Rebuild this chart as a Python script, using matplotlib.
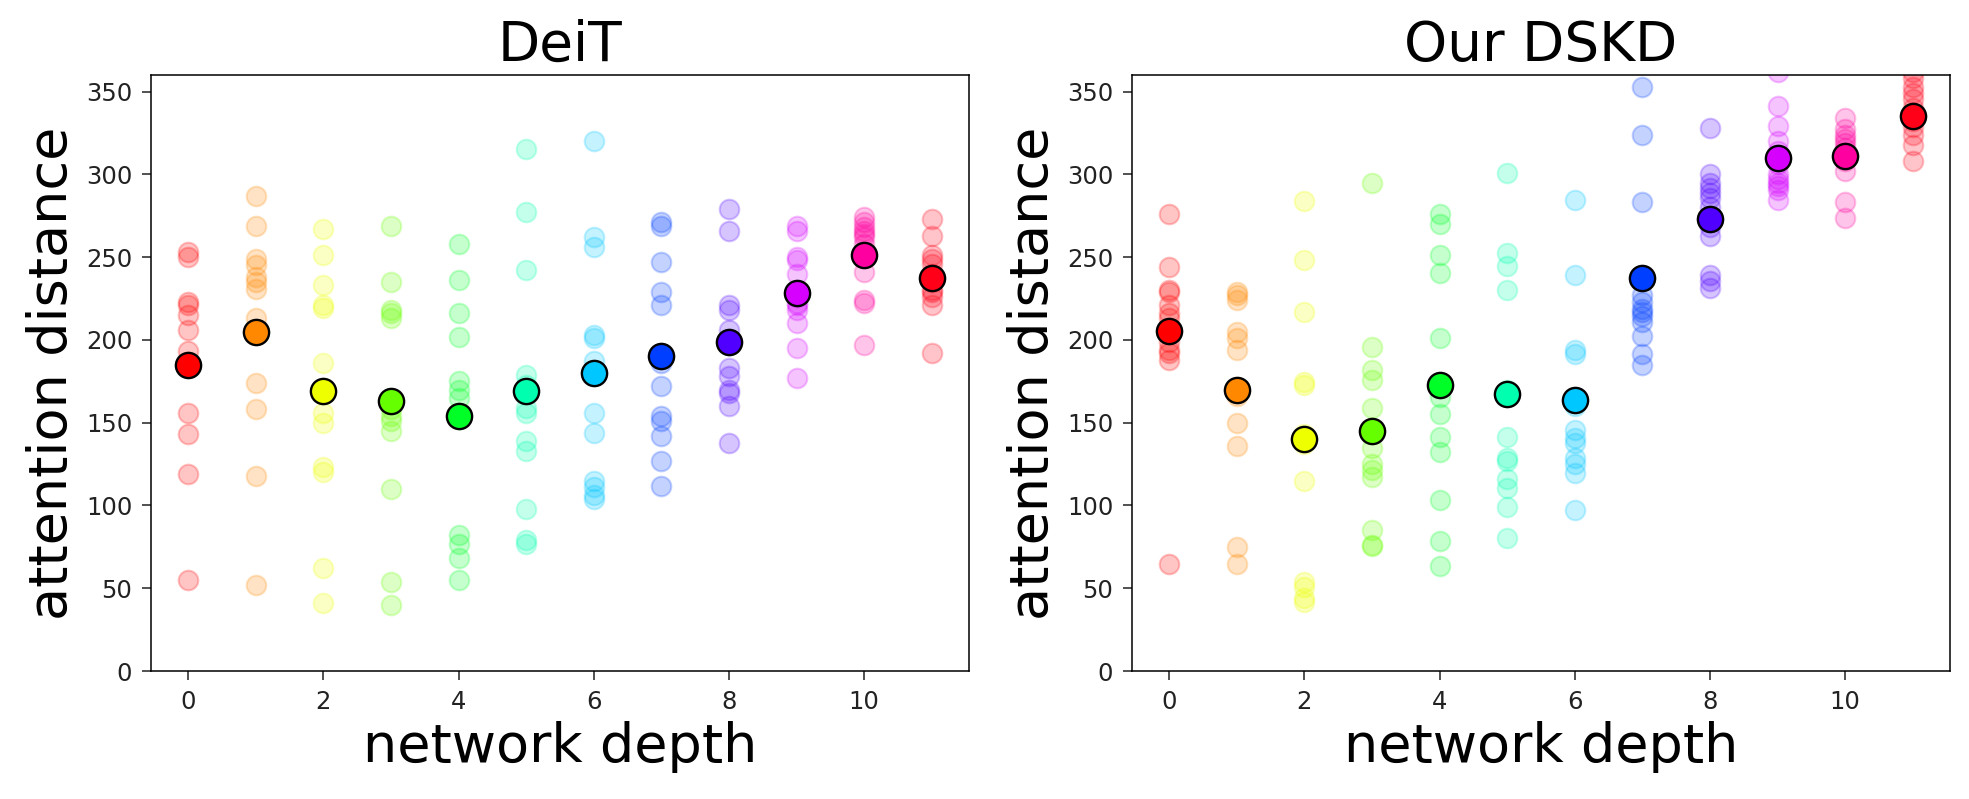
import numpy as np
import matplotlib
matplotlib.use("Agg")
import matplotlib.pyplot as plt

layers = list(range(12))

deit_heads = [
    [253, 250, 223, 221, 215, 206, 193, 186, 156, 143, 119, 55],
    [287, 269, 249, 245, 238, 235, 231, 213, 174, 158, 118, 52],
    [267, 251, 233, 221, 219, 186, 156, 150, 123, 120, 62, 41],
    [269, 235, 218, 216, 213, 158, 154, 151, 145, 110, 54, 40],
    [258, 236, 216, 202, 175, 170, 165, 152, 82, 77, 68, 55],
    [315, 277, 242, 179, 173, 159, 156, 139, 133, 98, 79, 77],
    [320, 262, 256, 203, 201, 187, 156, 144, 115, 111, 106, 104],
    [271, 269, 247, 229, 221, 186, 172, 154, 151, 142, 127, 112],
    [279, 266, 221, 218, 206, 197, 183, 178, 170, 168, 160, 138],
    [269, 266, 250, 248, 240, 226, 222, 221, 218, 210, 195, 177],
    [274, 271, 268, 266, 264, 262, 258, 252, 241, 224, 222, 197],
    [273, 263, 251, 249, 246, 240, 235, 230, 229, 226, 221, 192],
]
deit_mean = [185, 205, 169, 163, 154, 169, 180, 190, 198.5, 228.5, 251.5, 237.5]

dskd_heads = [
    [276, 244, 230, 229, 221, 216, 213, 199, 194, 192, 188, 64.5],
    [229, 227, 224, 204.5, 201, 194, 169, 166, 150, 136, 75, 64.5],
    [284, 248, 217, 174.4, 173, 143, 137, 114.5, 54, 50.5, 44, 41.4],
    [295, 195.5, 181.5, 176, 159, 134.5, 125, 121.6, 117, 85, 76.3, 75.2],
    [276, 270, 251, 240.5, 201, 165.6, 155, 141.4, 132, 103, 78.5, 63.4],
    [301, 252.5, 244.4, 230, 170, 141.4, 128.4, 127, 116, 110.8, 99, 80.6],
    [284.7, 239.4, 193.8, 191.6, 160, 145.3, 141, 137.8, 128.4, 124.8, 119.4, 97.2],
    [353, 323.5, 283, 227, 223, 218.5, 217, 214.7, 211, 202.4, 191.6, 185],
    [328, 300.4, 295, 291.8, 288.6, 285.4, 280, 268, 262.7, 239, 235.4, 231.5],
    [362, 341.4, 329, 320, 314, 306, 300.4, 297, 295, 293, 290.7, 284.7],
    [334, 327.4, 324, 321.6, 318.8, 316, 313, 310, 308, 302, 283, 273.5],
    [362, 358, 353, 349, 345.5, 340, 336, 332, 328.4, 324, 317.7, 308],
]
dskd_mean = [205.6, 170, 140, 145, 173, 167, 163.6, 237.5, 273, 310, 311, 335.3]

titles = ["DeiT", "Our DSKD"]
xlabel = "network depth"
ylabel = "attention distance"
yticks = [0, 50, 100, 150, 200, 250, 300, 350]
xticks = [0, 2, 4, 6, 8, 10]

colors = plt.cm.hsv(np.linspace(0, 1, len(layers)))

fig = plt.figure(figsize=(19.69, 7.99), dpi=100)
axes = [fig.add_axes([0.0767, 0.1602, 0.4154, 0.746]),
        fig.add_axes([0.5749, 0.1602, 0.4154, 0.746])]

for ax, heads, means, title in zip(axes, [deit_heads, dskd_heads],
                                   [deit_mean, dskd_mean], titles):
    for i, layer in enumerate(layers):
        ax.scatter([layer] * len(heads[i]), heads[i], s=200, color=colors[i],
                   alpha=0.23, linewidths=1.5, zorder=2)
    for i, layer in enumerate(layers):
        ax.scatter([layer], [means[i]], s=330, color=colors[i],
                   edgecolors="black", linewidths=1.7, zorder=3)
    ax.set_ylim(0, 360)
    ax.set_xlim(-0.55, 11.55)
    ax.set_xticks(xticks)
    ax.set_yticks(yticks)
    ax.set_title(title, fontsize=39.5, pad=10)
    ax.set_xlabel(xlabel, fontsize=39, labelpad=5)
    ax.set_ylabel(ylabel, fontsize=39, labelpad=6)
    ax.tick_params(labelsize=17.5, length=6.5, width=1.1, pad=7, colors="#222222",
                   labelcolor="#222222")
    for sp in ax.spines.values():
        sp.set_linewidth(1.1)

fig.savefig("out.png", dpi=100)
